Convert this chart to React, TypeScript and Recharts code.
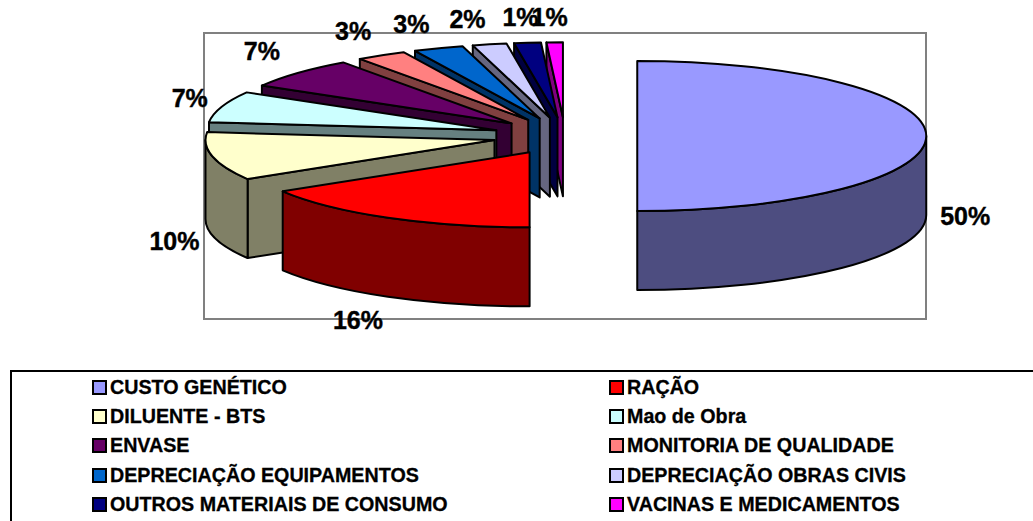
import React from "react";
import { PieChart, Pie, Legend } from "recharts";

const categories = [
  "CUSTO GENÉTICO",
  "RAÇÃO",
  "DILUENTE - BTS",
  "Mao de Obra",
  "ENVASE",
  "MONITORIA DE QUALIDADE",
  "DEPRECIAÇÃO EQUIPAMENTOS",
  "DEPRECIAÇÃO OBRAS CIVIS",
  "OUTROS MATERIAIS DE CONSUMO",
  "VACINAS E MEDICAMENTOS",
];
const values = [50, 16.3, 10.4, 6.7, 6.7, 2.8, 2.8, 1.9, 1.49, 0.91];
const topColors = ["#9999FF", "#FF0000", "#FFFFCC", "#CCFFFF", "#660066", "#FF8080", "#0066CC", "#CCCCFF", "#000080", "#FF00FF"];
const sideColors = ["#4D4D80", "#800000", "#808066", "#668080", "#330033", "#804040", "#003366", "#666680", "#000040", "#800080"];
const labelNudges = [
  [39, 80], [-30, 102], [-38, 85], [-32, -9], [-36, -22],
  [-28, -24], [-27, -24], [-22, -25], [-7, -26], [-5, -25],
];

// painter's order: back slices first, so the table runs from last to first and the pie turns counter-clockwise
const table = categories
  .map((name, i) => ({ name, value: values[i], fill: topColors[i], side: sideColors[i], nudge: labelNudges[i] }))
  .reverse();

const SQUASH = 75 / 289;
const EXPLODE = 0.25;
const DEPTH = 79;
const rad = (d: number) => (d * Math.PI) / 180;

function Slice3D(p: any) {
  const { cx, cy, outerRadius: r, startAngle, endAngle, fill, payload } = p;
  const side = payload?.side ?? p.side;
  const lo = Math.min(startAngle, endAngle);
  const hi = Math.max(startAngle, endAngle);
  // t = clockwise degrees from 12 o'clock
  const t1 = (((90 - hi) % 360) + 360) % 360;
  const t2 = t1 + (hi - lo);
  const tm = (t1 + t2) / 2;
  const ax = cx + EXPLODE * r * Math.sin(rad(tm));
  const ay = cy - EXPLODE * r * SQUASH * Math.cos(rad(tm));
  const rx = r;
  const ry = r * SQUASH;
  const pt = (t: number, d = 0): [number, number] => [ax + rx * Math.sin(rad(t)), ay - ry * Math.cos(rad(t)) + d];
  const stroke = { stroke: "#000", strokeWidth: 2, strokeLinejoin: "round" as const };
  const parts: React.ReactNode[] = [];

  const wall = (t: number, key: string) => {
    const o = pt(t);
    parts.push(
      <path key={key} fill={side} {...stroke}
        d={`M${ax},${ay}L${o[0]},${o[1]}L${o[0]},${o[1] + DEPTH}L${ax},${ay + DEPTH}Z`} />
    );
  };
  if (Math.sin(rad(t1)) < -1e-6) wall(t1, "ws");
  if (Math.sin(rad(t2)) > 1e-6) wall(t2, "we");

  const a = Math.max(t1, 90);
  const b = Math.min(t2, 270);
  if (b > a) {
    const p1 = pt(a);
    const p2 = pt(b);
    const large = b - a > 180 ? 1 : 0;
    parts.push(
      <path key="outer" fill={side} {...stroke}
        d={`M${p1[0]},${p1[1]}A${rx},${ry} 0 ${large} 1 ${p2[0]},${p2[1]}L${p2[0]},${p2[1] + DEPTH}A${rx},${ry} 0 ${large} 0 ${p1[0]},${p1[1] + DEPTH}Z`} />
    );
  }
  const s = pt(t1);
  const e = pt(t2);
  parts.push(
    <path key="top" fill={fill} {...stroke}
      d={`M${ax},${ay}L${s[0]},${s[1]}A${rx},${ry} 0 ${t2 - t1 > 180 ? 1 : 0} 1 ${e[0]},${e[1]}Z`} />
  );
  return <g>{parts}</g>;
}

function SliceLabel(p: any) {
  const { cx, cy, outerRadius: r, midAngle, percent, payload } = p;
  const nudge = payload?.nudge ?? p.nudge;
  const t = rad(90 - midAngle);
  const R = r * (1 + EXPLODE);
  const x = cx + R * Math.sin(t) + nudge[0];
  const y = cy - R * SQUASH * Math.cos(t) + nudge[1];
  return (
    <text x={x} y={y} dy="0.36em" textAnchor="middle" fontFamily="'Liberation Sans', Arial, sans-serif"
      fontWeight="bold" fontSize={25} fill="#000" stroke="#000" strokeWidth={0.4}>
      {Math.round(percent * 100)}%
    </text>
  );
}

const legendRows = [15, 44, 73, 102.5, 132];
const legendCols = [80, 597];

function LegendBox() {
  return (
    <div style={{ position: "relative", width: "100%", height: "100%" }}>
      {categories.map((name, i) => {
        const col = legendCols[i % 2];
        const row = legendRows[Math.floor(i / 2)];
        return (
          <div key={name}>
            <div style={{
              position: "absolute", left: col, top: row - 7, width: 15, height: 15, boxSizing: "border-box",
              background: topColors[i], border: "2px solid #000",
            }} />
            <div style={{
              position: "absolute", left: col + 18, top: row - 11, height: 22, lineHeight: "22px", whiteSpace: "nowrap",
              fontFamily: "'Liberation Sans', Arial, sans-serif", fontWeight: "bold", fontSize: 19.7, color: "#000",
              WebkitTextStroke: "0.3px #000",
            }}>{name}</div>
          </div>
        );
      })}
    </div>
  );
}

export default function App() {
  return (
    <div style={{ position: "absolute", left: 0, top: 0, width: 1033, height: 521, overflow: "hidden", background: "#fff" }}>
      <div style={{
        position: "absolute", left: 203, top: 32, width: 724, height: 288, boxSizing: "border-box",
        border: "2px solid #808080",
      }} />
      <PieChart width={1033} height={521} margin={{ top: 0, right: 0, bottom: 0, left: 0 }} style={{ position: "absolute", left: 0, top: 0 }}>
        <Pie
          data={table}
          dataKey="value"
          nameKey="name"
          cx={565}
          cy={136}
          innerRadius={0}
          outerRadius={289}
          startAngle={90}
          endAngle={450}
          stroke="none"
          isAnimationActive={false}
          shape={Slice3D}
          label={SliceLabel}
          labelLine={false}
        />
        <Legend
          content={() => <LegendBox />}
          wrapperStyle={{
            position: "absolute", left: 10, top: 370, width: 1100, height: 200, boxSizing: "border-box",
            border: "2px solid #000", background: "#fff",
          }}
        />
      </PieChart>
    </div>
  );
}
